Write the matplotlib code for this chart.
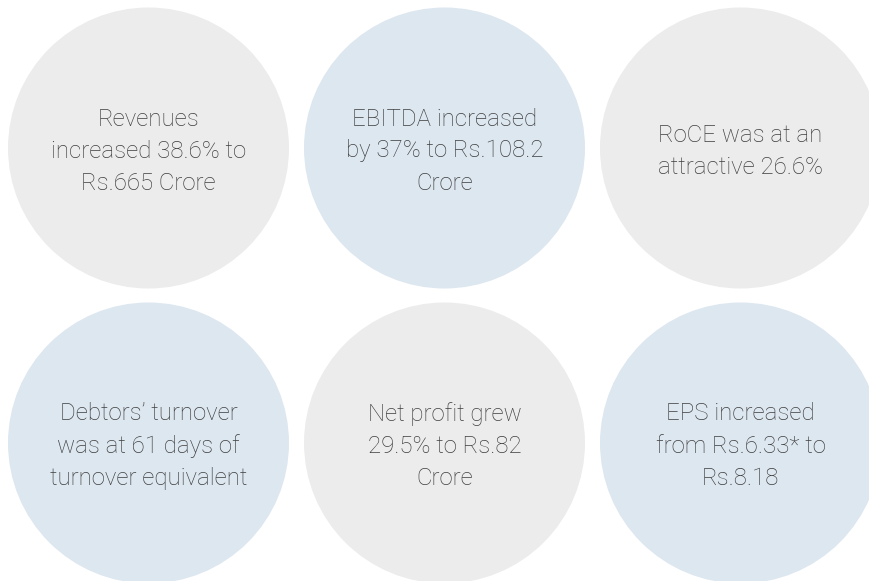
import matplotlib.pyplot as plt
from matplotlib.patches import Circle

# Highlights shown in the bubbles, row by row
labels = [
    "Revenues\nincreased 38.6% to\nRs.665 Crore",
    "EBITDA increased\nby 37% to Rs.108.2\nCrore",
    "RoCE was at an\nattractive 26.6%",
    "Debtors\u2019 turnover\nwas at 61 days of\nturnover equivalent",
    "Net profit grew\n29.5% to Rs.82\nCrore",
    "EPS increased\nfrom Rs.6.33* to\nRs.8.18",
]
kinds = ["grey", "blue", "grey", "blue", "grey", "blue"]

palette = {"grey": "#ececec", "blue": "#dde7f0"}
n_cols = 3

fig = plt.figure(figsize=(8.7, 5.81), dpi=100)
ax = fig.add_axes([0, 0, 1, 1])
ax.set_xlim(0, 870)
ax.set_ylim(581, 0)
ax.set_aspect("equal")
ax.axis("off")

radius = 140.5
step_x, step_y = 296, 295
x0, y0 = 148.5, 148

for i, (txt, kind) in enumerate(zip(labels, kinds)):
    row, col = divmod(i, n_cols)
    cx = x0 + col * step_x
    cy = y0 + row * step_y
    ax.add_patch(Circle((cx, cy), radius, facecolor=palette[kind],
                        edgecolor="none"))
    ax.text(cx, cy + 3, txt, ha="center", va="center", fontsize=17.3,
            family="Roboto", fontweight="light", color="#3e3e3e",
            linespacing=1.5)

fig.savefig("out.png", dpi=100)
